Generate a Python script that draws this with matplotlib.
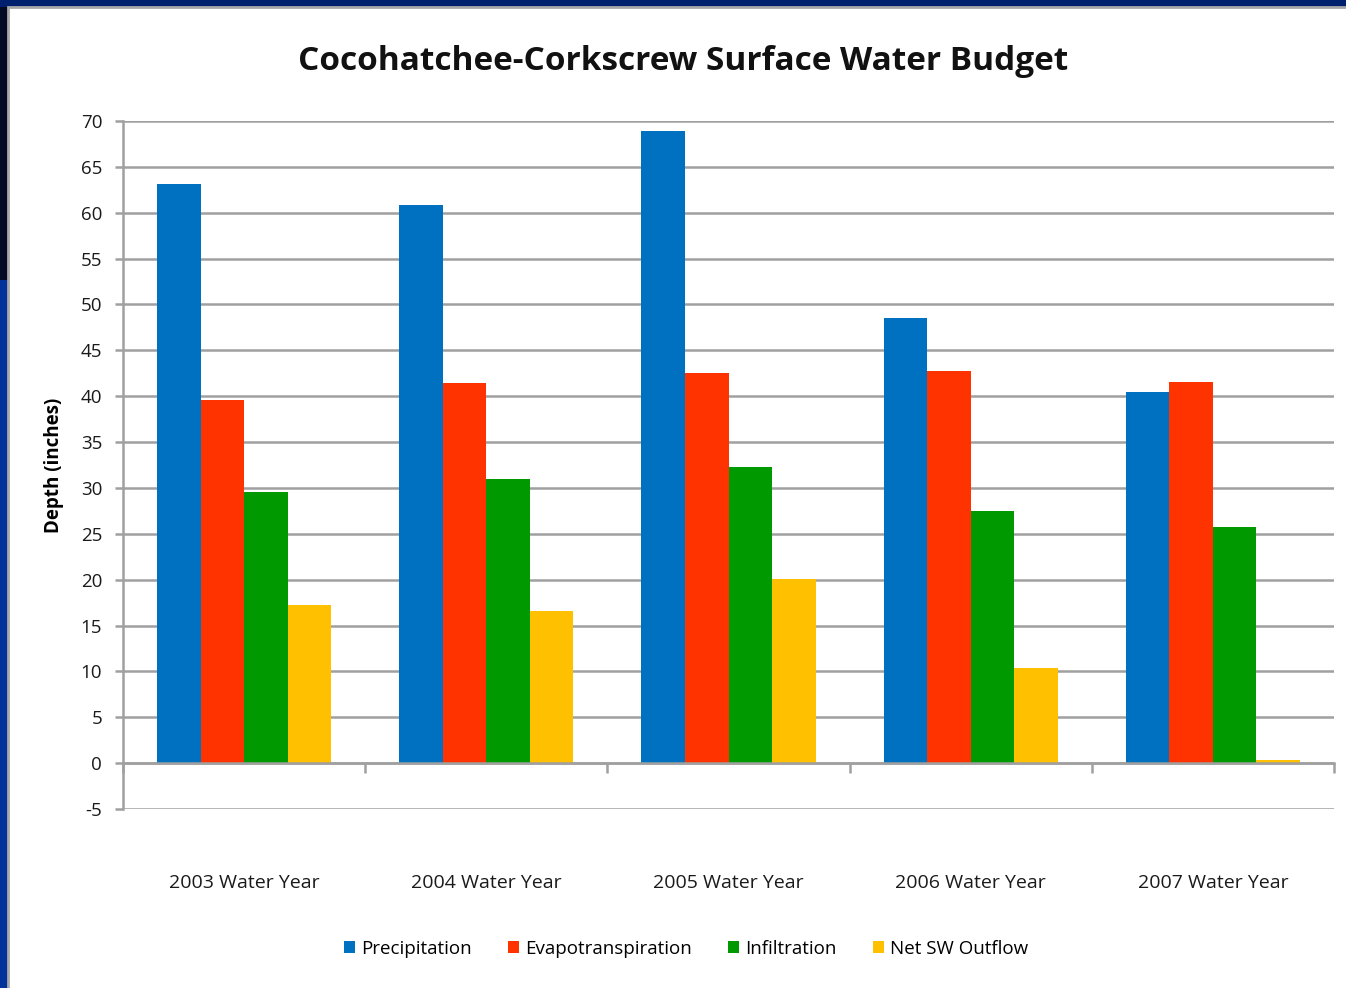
import matplotlib
matplotlib.use("Agg")
import matplotlib.pyplot as plt
from matplotlib.patches import Rectangle
import numpy as np

categories = ["2003 Water Year", "2004 Water Year", "2005 Water Year", "2006 Water Year", "2007 Water Year"]
series_names = ["Precipitation", "Evapotranspiration", "Infiltration", "Net SW Outflow"]
precipitation = [63.1, 60.8, 68.9, 48.5, 40.5]
evapotranspiration = [39.6, 41.4, 42.5, 42.7, 41.6]
infiltration = [29.6, 31.0, 32.3, 27.5, 25.7]
net_sw_outflow = [17.2, 16.6, 20.1, 10.4, 0.3]
y_ticks = [-5, 0, 5, 10, 15, 20, 25, 30, 35, 40, 45, 50, 55, 60, 65, 70]

colors = ["#0070C0", "#FF3300", "#009900", "#FFC000"]
series = [precipitation, evapotranspiration, infiltration, net_sw_outflow]

plt.rcParams['font.family'] = ['Open Sans', 'DejaVu Sans']

W, H = 1346, 988
fig = plt.figure(figsize=(W / 100, H / 100), dpi=100)
fig.patch.set_facecolor("#002a80")

# decorative frame
fig.add_artist(Rectangle((0, 0), 8 / W, 1, transform=fig.transFigure, facecolor="#003399", edgecolor="none", zorder=0))
fig.add_artist(Rectangle((0, 1 - 280 / H), 8 / W, 280 / H, transform=fig.transFigure, facecolor="#020a24", edgecolor="none", zorder=0))
fig.add_artist(Rectangle((0, 1 - 7 / H), 1, 7 / H, transform=fig.transFigure, facecolor="#00206e", edgecolor="none", zorder=0))
fig.add_artist(Rectangle((8 / W, -0.01), 1, 1 - 7 / H + 0.01, transform=fig.transFigure, facecolor="white",
                         edgecolor="#a8a8a8", linewidth=2.0, zorder=0))

ax = fig.add_axes([123 / W, 1 - 809 / H, (1334 - 123) / W, (809 - 121) / H])
ax.set_facecolor("none")

x = np.arange(len(categories))
bw = 0.18
for i, (name, vals, c) in enumerate(zip(series_names, series, colors)):
    ax.bar(x + (i - 1.5) * bw, vals, width=bw, color=c, label=name, zorder=3, linewidth=0)

ax.set_xlim(-0.5, len(categories) - 0.5)
ax.set_ylim(-5, 70)
ax.set_yticks(y_ticks)
ax.set_yticklabels([str(t) for t in y_ticks])
ax.grid(axis="y", color="#a0a0a0", linewidth=1.8, zorder=1)
ax.set_axisbelow(True)

for s in ["top", "right"]:
    ax.spines[s].set_visible(False)
ax.spines["left"].set_color("#a0a0a0")
ax.spines["left"].set_linewidth(1.8)
ax.spines["bottom"].set_position(("data", 0))
ax.spines["bottom"].set_color("#a0a0a0")
ax.spines["bottom"].set_linewidth(1.8)
ax.spines["bottom"].set_zorder(4)

ax.tick_params(axis="y", length=6, width=1.8, color="#a0a0a0", labelsize=13.5, pad=9, labelcolor="#1a1a1a")
ax.set_xticks(x)
ax.set_xticklabels(categories)
ax.set_xticks(np.arange(-0.5, len(categories)), minor=True)
ax.tick_params(axis="x", which="major", length=0, labelsize=14, pad=80, labelcolor="#1a1a1a")
ax.tick_params(axis="x", which="minor", length=7, width=1.8, color="#a0a0a0", direction="out")

ax.set_ylabel("Depth (inches)", fontsize=13.5, fontweight="bold")
ax.yaxis.set_label_coords(-0.049, 0.5)

fig.text(683 / W, 1 - 61 / H, "Cocohatchee-Corkscrew Surface Water Budget", ha="center", va="center",
         fontsize=24, fontweight="bold", color="#111111")

leg = fig.legend(loc="center", bbox_to_anchor=(686 / W, 1 - 949 / H), ncol=4, frameon=False,
                 fontsize=13.5, handlelength=0.6, handleheight=0.6, handletextpad=0.35, columnspacing=1.9)

fig.savefig("out.png", dpi=100)
